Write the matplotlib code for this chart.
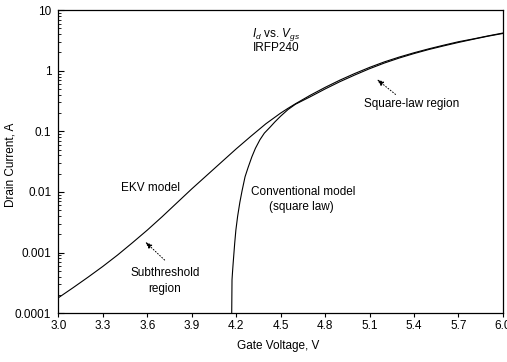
import matplotlib
matplotlib.use("Agg")
import matplotlib.pyplot as plt
from matplotlib.ticker import FixedLocator, LogLocator, NullFormatter

plt.rcParams["font.family"] = ["Liberation Sans", "DejaVu Sans"]
plt.rcParams["mathtext.fontset"] = "custom"
plt.rcParams["mathtext.rm"] = "Liberation Sans"
plt.rcParams["mathtext.it"] = "Liberation Sans:italic"

# EKV model
ekv_v = [3.0, 3.1, 3.2, 3.3, 3.4, 3.5, 3.6, 3.7, 3.8, 3.9, 4.0, 4.1, 4.2,
         4.3, 4.4, 4.5, 4.55, 4.6, 4.7, 4.8, 4.9, 5.0, 5.1, 5.2, 5.3, 5.4,
         5.5, 5.6, 5.7, 5.8, 5.9, 6.0]
ekv_i = [1.79e-4, 2.63e-4, 3.91e-4, 5.89e-4, 9.1e-4, 1.45e-3, 2.34e-3,
         3.89e-3, 6.6e-3, 0.0112, 0.0186, 0.0309, 0.0513, 0.0832, 0.133,
         0.20, 0.24, 0.285, 0.394, 0.531, 0.70, 0.90, 1.135, 1.40, 1.68,
         1.98, 2.30, 2.64, 3.01, 3.35, 3.76, 4.19]

# conventional square-law model
conv_v = [4.17, 4.172, 4.176, 4.18, 4.19, 4.198, 4.21, 4.225, 4.24, 4.26,
          4.28, 4.306, 4.33, 4.36, 4.39, 4.43, 4.46, 4.5, 4.55, 4.6, 4.7,
          4.8, 4.9, 5.0, 5.1, 5.2, 5.3, 5.4, 5.5, 5.6, 5.7, 5.8, 5.9, 6.0]
conv_i = [1e-4, 3.55e-4, 5.0e-4, 6.8e-4, 1.41e-3, 2.34e-3, 3.98e-3, 6.76e-3,
          0.0105, 0.0178, 0.0251, 0.038, 0.0525, 0.0724, 0.0933, 0.118, 0.142,
          0.178, 0.229, 0.28, 0.372, 0.50, 0.66, 0.85, 1.08, 1.34, 1.62,
          1.92, 2.24, 2.57, 2.93, 3.31, 3.72, 4.12]

x_ticks = [3.0, 3.3, 3.6, 3.9, 4.2, 4.5, 4.8, 5.1, 5.4, 5.7, 6.0]
y_ticks = [1e-4, 1e-3, 1e-2, 1e-1, 1, 10]
y_labels = ["0.0001", "0.001", "0.01", "0.1", "1", "10"]

fig = plt.figure(figsize=(5.07, 3.62), dpi=100)
ax = fig.add_axes([0.115, 0.135, 0.877, 0.837])

ax.plot(ekv_v, ekv_i, color="k", lw=0.8)
ax.plot(conv_v, conv_i, color="k", lw=0.8)

ax.set_yscale("log")
ax.set_xlim(3.0, 6.0)
ax.set_ylim(1e-4, 10)
ax.set_xticks(x_ticks)
ax.set_xticklabels([f"{t:.1f}" for t in x_ticks])
ax.yaxis.set_major_locator(FixedLocator(y_ticks))
ax.set_yticklabels(y_labels)
ax.yaxis.set_minor_locator(LogLocator(base=10, subs=range(2, 10)))
ax.yaxis.set_minor_formatter(NullFormatter())
ax.tick_params(axis="x", direction="out", length=3, width=0.8, labelsize=8.5, pad=2)
ax.tick_params(axis="y", which="major", direction="in", length=4, width=0.8, labelsize=8.5, pad=5)
ax.tick_params(axis="y", which="minor", direction="in", length=2, width=0.6)
for s in ax.spines.values():
    s.set_linewidth(0.9)

ax.set_xlabel("Gate Voltage, V", fontsize=8.5)
ax.set_ylabel("Drain Current, A", fontsize=8.5)
ax.xaxis.set_label_coords(0.495, -0.089)
ax.yaxis.set_label_coords(-0.095, 0.49)

ax.text(4.31, 3.94, r"$I_d$ vs. $V_{gs}$", fontsize=8.5, ha="left", va="center")
ax.text(4.31, 2.4, "IRFP240", fontsize=8.5, ha="left", va="center")
ax.text(5.385, 0.28, "Square-law region", fontsize=8.5, ha="center", va="center")
ax.text(3.625, 0.0116, "EKV model", fontsize=8.5, ha="center", va="center")
ax.text(4.655, 0.0100, "Conventional model", fontsize=8.5, ha="center", va="center")
ax.text(4.64, 0.00565, "(square law)", fontsize=8.5, ha="center", va="center")
ax.text(3.72, 0.00046, "Subthreshold", fontsize=8.5, ha="center", va="center")
ax.text(3.72, 0.00025, "region", fontsize=8.5, ha="center", va="center")

arrow = dict(arrowstyle="-|>,head_length=0.4,head_width=0.15", color="k",
             lw=0.7, linestyle=(0, (1, 2)))
ax.annotate("", xy=(5.135, 0.77), xytext=(5.29, 0.38), arrowprops=arrow)
ax.annotate("", xy=(3.573, 1.61e-3), xytext=(3.731, 0.70e-3), arrowprops=arrow)

fig.savefig("out.png", dpi=100)
